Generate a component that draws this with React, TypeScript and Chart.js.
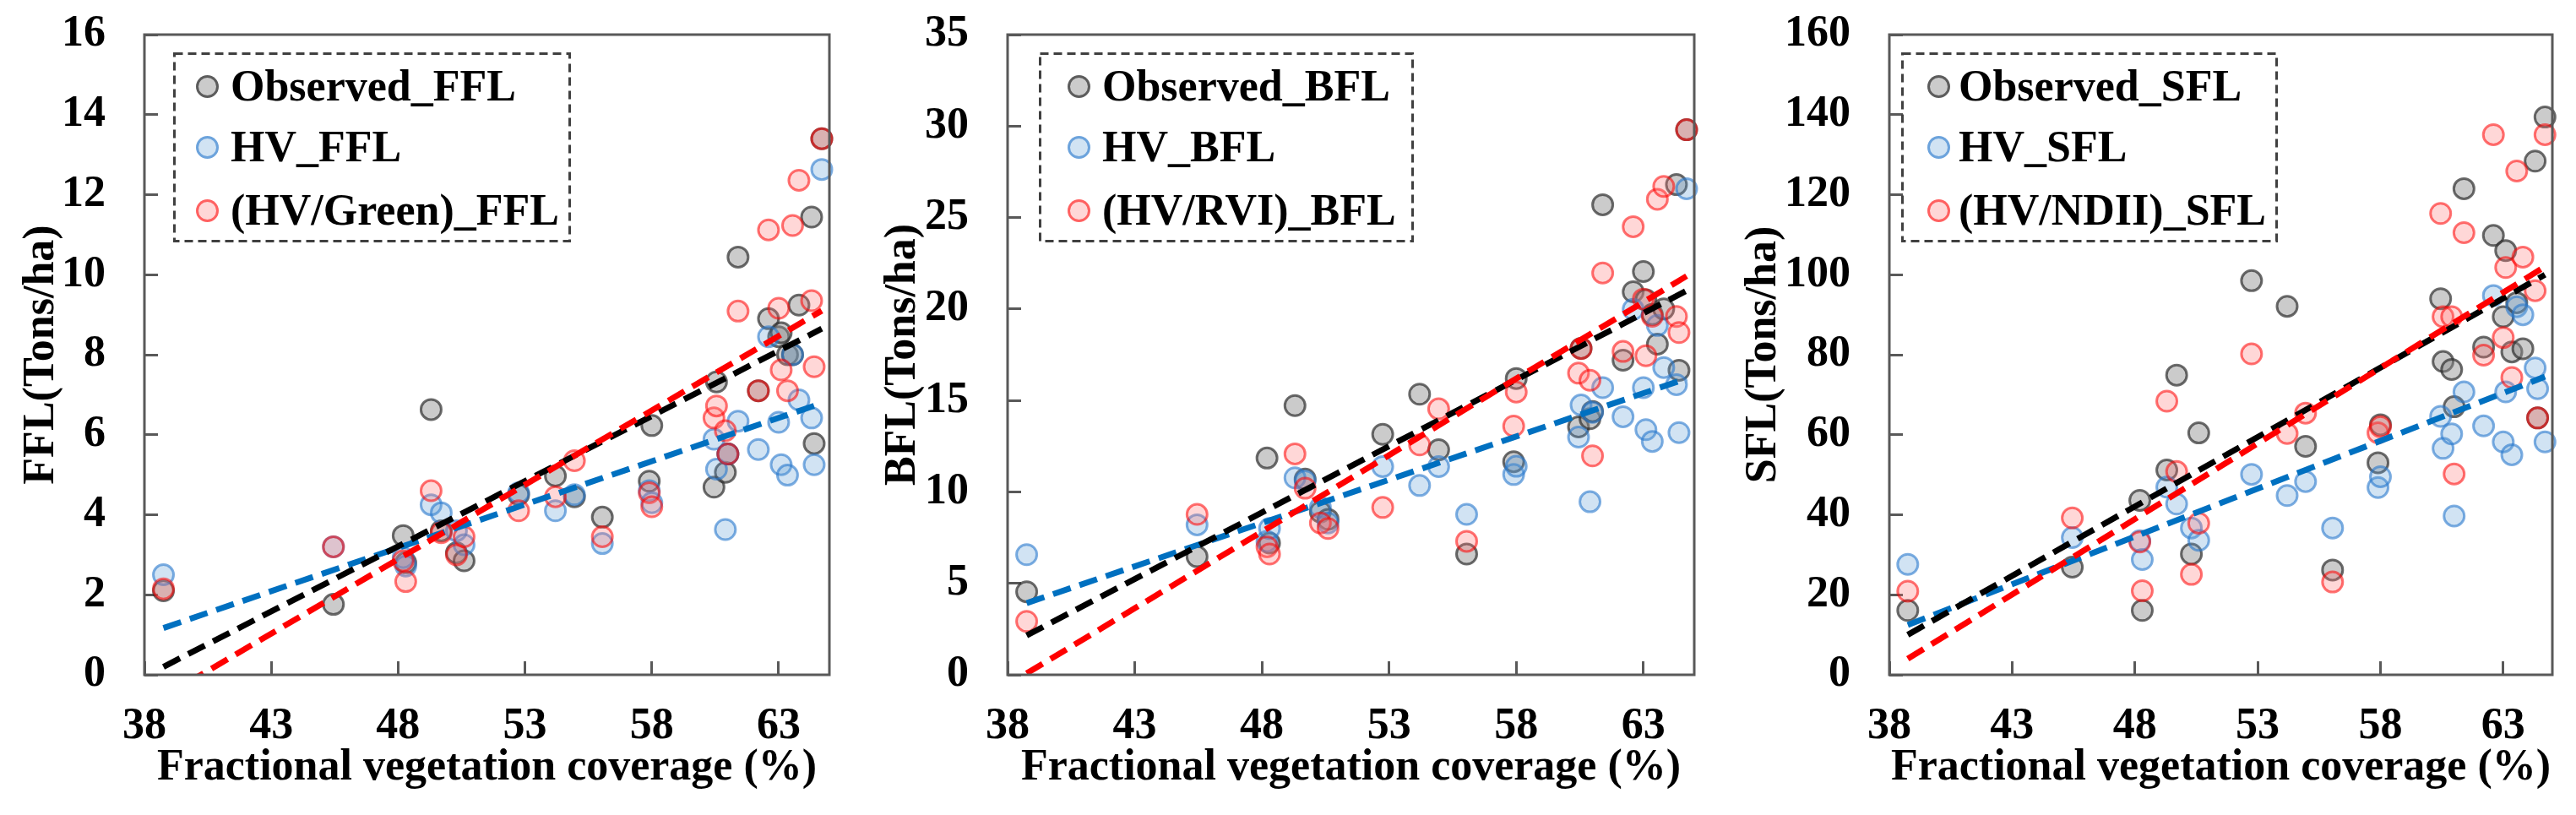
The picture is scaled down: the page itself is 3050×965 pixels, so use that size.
import React, { useEffect, useRef } from "react";
import { Chart, registerables, type ChartConfiguration } from "chart.js";

Chart.register(...registerables);

const SERIF = "'Liberation Serif', 'Times New Roman', serif";

// Fractional vegetation coverage of each plot (%), shared by all panels
const fvc = [
  38.75, 45.45, 48.2, 48.3, 49.3, 49.7, 50.3, 50.6, 52.75, 54.2, 54.95, 56.05,
  57.9, 58.0, 60.45, 60.55, 60.9, 61.0, 61.4, 62.2, 62.6, 63.0, 63.1, 63.35,
  63.55, 63.8, 64.3, 64.4, 64.7,
];
const fvcTicks = [38, 43, 48, 53, 58, 63];
// x range of the fitted trend lines
const fitX = [38.75, 64.7];

// FFL (Tons/ha)
const fflObserved = [
  2.1, 1.76, 3.48, 2.8, 6.63, 3.6, 3.05, 2.85, 4.5, 4.97, 4.45, 3.94, 4.84, 6.23,
  4.69, 7.32, 5.06, 5.52, 10.44, 7.1, 8.9, 8.45, 8.55, 8.0, 8.0, 9.24, 11.44, 5.78, 13.4,
];
const fflHv = [
  2.5, 3.2, 2.93, 2.72, 4.25, 4.05, 3.6, 3.25, 4.55, 4.1, 4.5, 3.28, 4.6, 4.3,
  5.89, 5.14, 3.63, 5.52, 6.34, 5.63, 8.45, 6.31, 5.25, 4.99, 8.0, 6.87, 6.42, 5.25, 12.63,
];
const fflFused = [
  2.15, 3.2, 2.85, 2.33, 4.6, 3.55, 3.0, 3.45, 4.1, 4.45, 5.35, 3.45, 4.55, 4.2,
  6.42, 6.72, 6.1, 5.52, 9.09, 7.1, 11.12, 9.16, 7.62, 7.1, 11.23, 12.36, 9.35, 7.7, 13.4,
];
const fflFitObserved = [0.2, 8.65];
const fflFitHv = [1.17, 6.79];
const fflFitFused = [-0.55, 9.1];

// BFL (Tons/ha)
const bflObserved = [
  4.54, 6.46, 11.85, 7.2, 14.72, 10.7, 8.9, 8.5, 13.15, 15.34, 12.3, 6.6, 11.65, 16.2,
  13.55, 17.85, 14.0, 14.4, 25.7, 17.2, 20.94, 22.05, 20.5, 19.7, 18.08, 20.0, 26.8, 16.65, 29.8,
];
const bflHv = [
  6.57, 8.2, 7.3, 8.0, 10.77, 10.6, 9.15, 8.3, 11.38, 10.35, 11.38, 8.77, 10.95, 11.4,
  13.0, 14.75, 9.46, 14.35, 15.7, 14.11, 19.98, 15.7, 13.4, 12.76, 19.1, 16.8, 15.86, 13.24, 26.57,
];
const bflFused = [
  2.92, 8.77, 7.0, 6.6, 12.08, 10.2, 8.3, 8.0, 9.15, 12.57, 14.54, 7.3, 13.6, 15.46,
  16.49, 17.84, 16.1, 11.97, 21.97, 17.68, 24.5, 20.54, 17.44, 19.6, 26.0, 26.7, 19.59, 18.71, 29.8,
];
const bflFitObserved = [2.15, 21.0];
const bflFitHv = [3.92, 16.2];
const bflFitFused = [0.08, 21.8];

// SFL (Tons/ha)
const sflObserved = [
  16.1, 26.9, 43.6, 16.1, 51.2, 74.9, 30.2, 60.45, 98.5, 92.1, 57.1, 26.2, 53.0, 62.5,
  94.0, 78.3, 76.3, 67.0, 121.5, 81.9, 109.8, 89.5, 106.0, 80.7, 93.0, 81.5, 128.4, 64.2, 139.4,
];
const sflHv = [
  27.6, 34.3, 33.5, 28.8, 46.9, 42.7, 36.7, 33.6, 50.1, 44.8, 48.3, 36.7, 46.8, 49.5,
  64.6, 56.6, 60.2, 39.7, 70.7, 62.2, 94.8, 58.2, 70.7, 55.0, 92.0, 90.0, 76.7, 71.5, 58.2,
];
const sflFused = [
  20.9, 39.2, 33.2, 21.0, 68.4, 50.8, 25.1, 37.9, 80.2, 60.3, 65.4, 23.2, 60.5, 62.0,
  115.3, 89.5, 89.5, 50.2, 110.5, 79.9, 135.0, 84.3, 101.8, 74.3, 125.9, 104.4, 96.0, 64.2, 135.0,
];
const sflFitObserved = [10.0, 100.0];
const sflFitHv = [12.45, 74.5];
const sflFitFused = [4.0, 102.0];

const COLORS = {
  observed: { fill: "rgba(140,140,140,0.45)", border: "rgba(45,45,45,0.7)", line: "#000000" },
  hv: { fill: "rgba(91,155,213,0.28)", border: "rgba(40,120,205,0.6)", line: "#0070C0" },
  fused: { fill: "rgba(255,110,110,0.28)", border: "rgba(255,0,0,0.55)", line: "#FF0000" },
};
const AXIS_COLOR = "#595959";

interface PanelSpec {
  name: string;
  fusedLabel: string;
  observed: number[];
  hv: number[];
  fused: number[];
  fitObserved: number[];
  fitHv: number[];
  fitFused: number[];
  yMax: number;
  yStep: number;
  // layout
  left: number;
  width: number;
  axisWidth: number;
  padRight: number;
  titlePad: number;
  legendLeft: number;
  legendWidth: number;
  markerX: number;
  textX: number;
}

const panels: PanelSpec[] = [
  {
    name: "FFL", fusedLabel: "(HV/Green)_FFL",
    observed: fflObserved, hv: fflHv, fused: fflFused,
    fitObserved: fflFitObserved, fitHv: fflFitHv, fitFused: fflFitFused,
    yMax: 16, yStep: 2,
    left: 0, width: 1016, axisWidth: 171, padRight: 34, titlePad: 18,
    legendLeft: 205, legendWidth: 471, markerX: 40, textX: 68,
  },
  {
    name: "BFL", fusedLabel: "(HV/RVI)_BFL",
    observed: bflObserved, hv: bflHv, fused: bflFused,
    fitObserved: bflFitObserved, fitHv: bflFitHv, fitFused: bflFitFused,
    yMax: 35, yStep: 5,
    left: 1016, width: 1014, axisWidth: 177, padRight: 24, titlePad: 22,
    legendLeft: 214, legendWidth: 444, markerX: 47, textX: 75,
  },
  {
    name: "SFL", fusedLabel: "(HV/NDII)_SFL",
    observed: sflObserved, hv: sflHv, fused: sflFused,
    fitObserved: sflFitObserved, fitHv: sflFitHv, fitFused: sflFitFused,
    yMax: 160, yStep: 20,
    left: 2030, width: 1020, axisWidth: 207, padRight: 28, titlePad: 27,
    legendLeft: 221, legendWidth: 446, markerX: 44, textX: 68,
  },
];

const legendRows = [40, 112, 187];

// closed box around the plot area
const framePlugin = {
  id: "frame",
  afterDatasetsDraw(chart: Chart) {
    const { ctx, chartArea } = chart;
    ctx.save();
    ctx.strokeStyle = AXIS_COLOR;
    ctx.lineWidth = 3;
    ctx.strokeRect(chartArea.left, chartArea.top, chartArea.right - chartArea.left, chartArea.bottom - chartArea.top);
    ctx.restore();
  },
};

const labelsFor = (spec: PanelSpec) => [
  { label: `Observed_${spec.name}`, c: COLORS.observed },
  { label: `HV_${spec.name}`, c: COLORS.hv },
  { label: spec.fusedLabel, c: COLORS.fused },
];

function buildConfig(spec: PanelSpec): ChartConfiguration {
  const [obsL, hvL, fusedL] = labelsFor(spec);
  const points = (values: number[], c: typeof COLORS.observed, label: string, order: number) => ({
    label,
    data: fvc.map((x, i) => ({ x, y: values[i] })),
    showLine: false,
    pointRadius: 12,
    pointHoverRadius: 12,
    pointBorderWidth: 3,
    pointBackgroundColor: c.fill,
    pointBorderColor: c.border,
    clip: false as const,
    order,
  });
  const fit = (ys: number[], color: string, order: number) => ({
    label: "fit",
    data: fitX.map((x, i) => ({ x, y: ys[i] })),
    showLine: true,
    borderColor: color,
    borderWidth: 7,
    borderDash: [22, 11],
    borderCapStyle: "butt" as const,
    pointRadius: 0,
    pointHoverRadius: 0,
    fill: false,
    clip: 0,
    order,
  });

  const tickFont = { family: SERIF, size: 52, weight: "bold" as const };
  const grid = {
    display: true,
    drawOnChartArea: false,
    drawTicks: true,
    tickLength: -16, // negative length draws the ticks inside the frame
    lineWidth: 3,
    tickWidth: 3,
    color: AXIS_COLOR,
    tickColor: AXIS_COLOR,
  };

  return {
    type: "scatter",
    data: {
      datasets: [
        fit(spec.fitFused, COLORS.fused.line, 0),
        fit(spec.fitObserved, COLORS.observed.line, 1),
        fit(spec.fitHv, COLORS.hv.line, 2),
        points(spec.fused, fusedL.c, fusedL.label, 3),
        points(spec.hv, hvL.c, hvL.label, 4),
        points(spec.observed, obsL.c, obsL.label, 5),
      ] as any,
    },
    options: {
      animation: false,
      responsive: true,
      maintainAspectRatio: false,
      events: [],
      layout: { padding: { top: 41, right: spec.padRight, bottom: 0, left: 0 } },
      plugins: {
        legend: { display: false },
        tooltip: { enabled: false },
      },
      scales: {
        x: {
          type: "linear",
          min: 38,
          max: 65,
          afterBuildTicks: (scale: any) => {
            scale.ticks = fvcTicks.map((value) => ({ value }));
          },
          afterFit: (scale: any) => {
            scale.height = 166;
            scale.paddingLeft = 0;
            scale.paddingRight = 0;
          },
          grid,
          border: { display: false },
          ticks: { padding: 46, color: "#000", font: tickFont, maxRotation: 0, autoSkip: false },
          title: {
            display: true,
            text: "Fractional vegetation coverage (%)",
            color: "#000",
            font: tickFont,
            padding: { top: 0, bottom: 24 },
          },
        },
        y: {
          type: "linear",
          min: 0,
          max: spec.yMax,
          afterFit: (scale: any) => {
            scale.width = spec.axisWidth;
            // the label overhang is already covered by the layout padding
            scale.paddingTop = 0;
            scale.paddingBottom = 0;
          },
          grid,
          border: { display: false },
          ticks: { stepSize: spec.yStep, padding: 62, color: "#000", font: tickFont },
          title: {
            display: true,
            text: `${spec.name}(Tons/ha)`,
            color: "#000",
            font: tickFont,
            padding: { top: spec.titlePad, bottom: 0 },
          },
        },
      },
    } as any,
    plugins: [framePlugin],
  };
}

function Legend({ spec }: { spec: PanelSpec }) {
  const w = spec.legendWidth;
  const h = 225;
  return (
    <div style={{ position: "absolute", left: spec.legendLeft, top: 62, width: w, height: h }}>
      <svg width={w} height={h} style={{ position: "absolute", left: 0, top: 0 }}>
        <rect x={1.5} y={1.5} width={w - 3} height={h - 3} fill="none" stroke="#404040" strokeWidth={3} strokeDasharray="10 6" />
      </svg>
      {labelsFor(spec).map((item, i) => (
        <React.Fragment key={item.label}>
          <div
            style={{
              position: "absolute",
              left: spec.markerX - 13.5,
              top: legendRows[i] - 13.5,
              width: 21,
              height: 21,
              borderRadius: "50%",
              border: `3px solid ${item.c.border}`,
              background: item.c.fill,
            }}
          />
          <div
            style={{
              position: "absolute",
              left: spec.textX,
              top: legendRows[i] - 31,
              height: 62,
              lineHeight: "62px",
              fontFamily: SERIF,
              fontWeight: "bold",
              fontSize: 52,
              color: "#000",
              whiteSpace: "nowrap",
            }}
          >
            {item.label}
          </div>
        </React.Fragment>
      ))}
    </div>
  );
}

function Panel({ spec }: { spec: PanelSpec }) {
  const canvasRef = useRef<HTMLCanvasElement>(null);

  useEffect(() => {
    if (!canvasRef.current) return;
    const chart = new Chart(canvasRef.current, buildConfig(spec));
    return () => {
      chart.destroy();
    };
  }, [spec]);

  return (
    <div style={{ position: "absolute", left: spec.left, top: 0, width: spec.width, height: 965 }}>
      <canvas ref={canvasRef} />
      <Legend spec={spec} />
    </div>
  );
}

export default function App() {
  return (
    <div style={{ position: "absolute", left: 0, top: 0, width: 3050, height: 965, background: "#fff", overflow: "hidden" }}>
      {panels.map((p) => (
        <Panel key={p.name} spec={p} />
      ))}
    </div>
  );
}
